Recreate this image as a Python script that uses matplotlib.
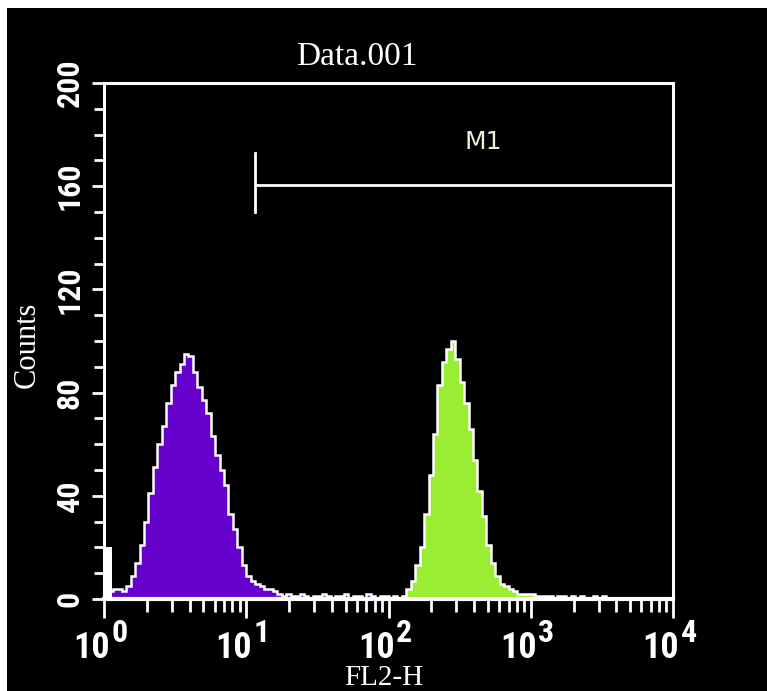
import numpy as np
import matplotlib
matplotlib.use('Agg')
import matplotlib.pyplot as plt
from matplotlib.ticker import MultipleLocator, FixedLocator, NullFormatter
import matplotlib.transforms as mtransforms

# histogram data, bins of 1/32 decade on the FL2-H log scale
bins_per_decade = 32
purple_start = 0
purple_counts = [2, 3, 4, 4, 3, 5, 9, 14, 21, 30,
                 41, 51, 60, 67, 76, 83, 88, 91, 95, 94,
                 88, 82, 77, 72, 63, 56, 50, 44, 33, 27,
                 20, 13, 9, 7, 6, 5, 4, 4, 3, 2,
                 1, 2, 1, 1, 2, 1, 0, 1, 1, 2,
                 1, 0, 1, 1, 2, 0, 1, 1, 0, 2,
                 1, 0, 1, 1, 0, 1, 0]
green_start = 67
green_counts = [1, 4, 7, 13, 20, 33, 48, 64, 83, 92,
                97, 100, 93, 84, 76, 66, 54, 42, 32, 21,
                14, 9, 6, 5, 4, 3, 2, 2, 2, 2,
                1, 1, 1, 1, 0, 1, 1, 0, 1, 0,
                1, 0, 0, 1, 0, 1]
# off-scale events piled in the first channels
spike_edges = [1.0, 1.035, 1.14]
spike_counts = [38, 20]

# M1 marker
m1_left = 11.6
m1_right = 1e4
m1_level = 160.5
m1_bar = (150, 173)

yticks = [0, 40, 80, 120, 160, 200]
decades = [0, 1, 2, 3, 4]

purple = '#6600cc'
green = '#99ee33'
narrow = ['Roboto Condensed', 'DejaVu Sans']


def edges_for(start, n):
    return 10 ** (np.arange(start, start + n + 1) / bins_per_decade)


def main():
    fig = plt.figure(figsize=(7.67, 6.91), dpi=100, facecolor='white')
    # black panel inside the thin white border
    fig.patches.append(plt.Rectangle((7 / 767, 0), 1, (691 - 8) / 691,
                                     transform=fig.transFigure,
                                     facecolor='black', zorder=-10))
    ax = fig.add_axes([104 / 767, 92 / 691, 569 / 767, 516 / 691])
    ax.set_facecolor('black')

    pe = edges_for(purple_start, len(purple_counts))
    ge = edges_for(green_start, len(green_counts))
    ax.stairs(purple_counts, pe, fill=True, color=purple, zorder=2)
    ax.stairs(green_counts, ge, fill=True, color=green, zorder=2)
    ax.stairs(purple_counts, pe, color='white', lw=1.8, zorder=3)
    ax.stairs(green_counts, ge, color='white', lw=1.8, zorder=3)
    ax.stairs(spike_counts, spike_edges, fill=True, color='white', zorder=3)

    ax.set_xscale('log')
    ax.set_xlim(1, 1e4)
    ax.set_ylim(0, 200)

    for s in ax.spines.values():
        s.set_color('white')
        s.set_linewidth(2.2)
    ax.spines['bottom'].set_linewidth(3)

    ax.yaxis.set_major_locator(FixedLocator(yticks))
    ax.yaxis.set_minor_locator(MultipleLocator(10))
    ax.xaxis.set_major_locator(FixedLocator([10 ** d for d in decades]))
    minors = [m * 10 ** d for d in decades[:-1] for m in range(2, 10)]
    ax.xaxis.set_minor_locator(FixedLocator(minors))
    ax.xaxis.set_major_formatter(NullFormatter())
    ax.xaxis.set_minor_formatter(NullFormatter())
    ax.tick_params(axis='both', which='both', direction='out', colors='white')
    ax.tick_params(axis='y', which='major', length=9, width=2)
    ax.tick_params(axis='y', which='minor', length=7, width=2)
    ax.tick_params(axis='x', which='major', length=14, width=2)
    ax.tick_params(axis='x', which='minor', length=9, width=2)
    ax.tick_params(axis='y', labelsize=23, labelrotation=90, pad=5)
    for lab in ax.get_yticklabels():
        lab.set_fontfamily(narrow)
        lab.set_fontstretch('condensed')
        lab.set_fontweight('bold')
        lab.set_verticalalignment('center')

    # decade labels: "10" plus a large raised exponent
    tr = mtransforms.blended_transform_factory(ax.transData, ax.transAxes)
    for d in decades:
        ax.text(10 ** d * 1.1, -0.06, '10', transform=tr, ha='right', va='top',
                color='white', fontsize=26, family=narrow, fontstretch='condensed',
                fontweight='bold', clip_on=False)
        ax.text(10 ** d * 1.13, -0.036, str(d), transform=tr, ha='left', va='top',
                color='white', fontsize=23, family=narrow, fontstretch='condensed',
                fontweight='bold', clip_on=False)

    # M1 gate
    ax.plot([m1_left, m1_right], [m1_level, m1_level], color='white', lw=2,
            solid_capstyle='butt', zorder=4)
    ax.plot([m1_left, m1_left], m1_bar, color='white', lw=2, zorder=4)
    ax.text(460, 177, 'M1', color='#f2f0d8', fontsize=18, ha='center',
            va='center', family='DejaVu Sans')

    fig.text(357 / 767, 1 - 57 / 691, 'Data.001', color='white', fontsize=24,
             ha='center', va='center', family='Liberation Serif')
    fig.text(27 / 767, 1 - 345 / 691, 'Counts', color='white', fontsize=22,
             ha='center', va='center', rotation=90, family='Liberation Serif')
    fig.text(384 / 767, 1 - 678 / 691, 'FL2-H', color='white', fontsize=21,
             ha='center', va='center', family='Liberation Serif')

    fig.savefig('out.png', dpi=100, facecolor=fig.get_facecolor())


if __name__ == '__main__':
    main()
